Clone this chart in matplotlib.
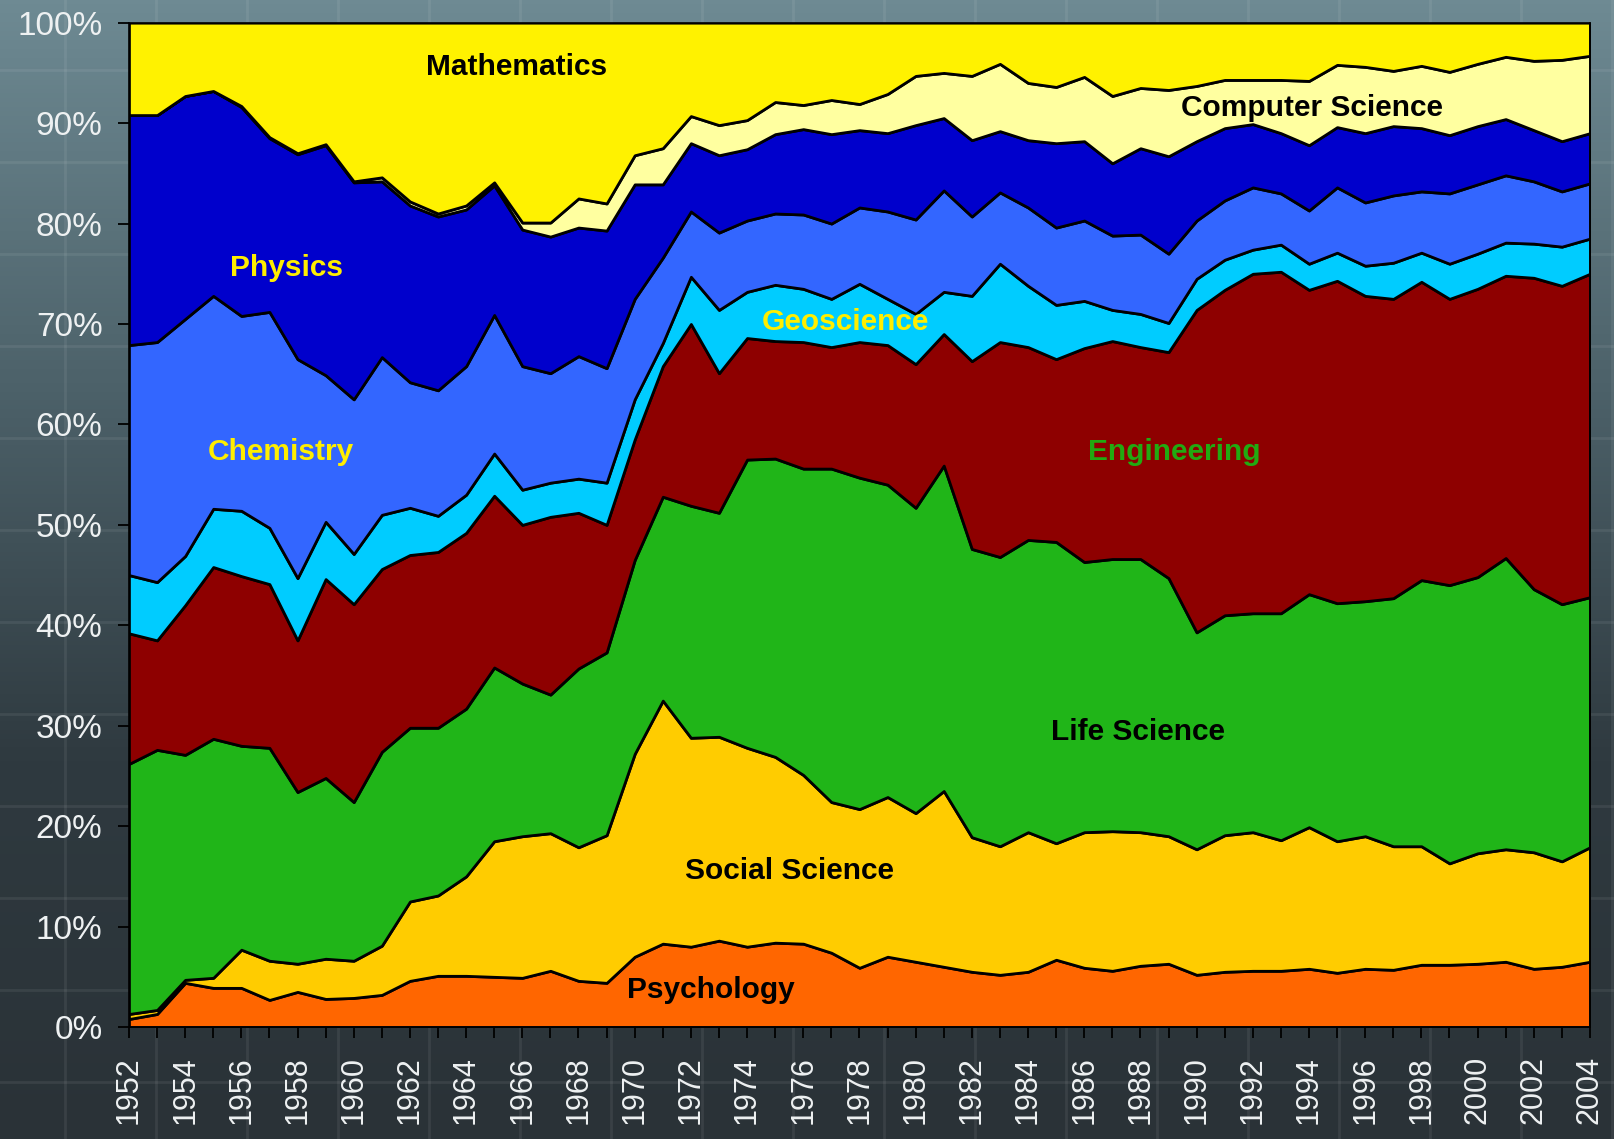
import numpy as np
import matplotlib.pyplot as plt
from matplotlib.colors import LinearSegmentedColormap
from matplotlib.ticker import MultipleLocator, FuncFormatter

plt.rcParams['font.family'] = ['Liberation Sans', 'DejaVu Sans']

years = np.arange(1952, 2005)

# share of PhDs per field, percent
psychology = [0.8, 1.3, 4.4, 3.9, 3.9, 2.7, 3.5, 2.8, 2.9, 3.2, 4.6, 5.1, 5.1, 5.0, 4.9, 5.6, 4.6, 4.4,
              7.0, 8.3, 8.0, 8.6, 8.0, 8.4, 8.3, 7.4, 5.9, 7.0, 6.5, 6.0, 5.5, 5.2, 5.5, 6.7, 5.9, 5.6,
              6.1, 6.3, 5.2, 5.5, 5.6, 5.6, 5.8, 5.4, 5.8, 5.7, 6.2, 6.2, 6.3, 6.5, 5.8, 6.0, 6.5]
social_science = [0.5, 0.4, 0.3, 1.0, 3.8, 3.9, 2.8, 4.0, 3.7, 4.9, 7.9, 8.0, 9.9, 13.5, 14.1, 13.7, 13.3, 14.7,
                  20.2, 24.2, 20.8, 20.3, 19.8, 18.5, 16.8, 15.0, 15.8, 15.9, 14.8, 17.5, 13.4, 12.8, 13.9, 11.6, 13.5, 13.9,
                  13.3, 12.7, 12.5, 13.6, 13.8, 13.0, 14.1, 13.1, 13.2, 12.3, 11.8, 10.1, 11.0, 11.2, 11.6, 10.5, 11.4]
life_science = [24.9, 25.9, 22.4, 23.8, 20.3, 21.2, 17.1, 18.0, 15.8, 19.3, 17.3, 16.7, 16.7, 17.3, 15.2, 13.8, 17.8, 18.2,
                19.3, 20.3, 23.1, 22.3, 28.7, 29.7, 30.5, 33.2, 33.0, 31.1, 30.4, 32.4, 28.7, 28.8, 29.1, 30.0, 26.9, 27.1,
                27.2, 25.7, 21.6, 21.9, 21.8, 22.6, 23.2, 23.7, 23.4, 24.7, 26.5, 27.7, 27.5, 29.0, 26.2, 25.6, 24.9]
engineering = [13.0, 10.9, 14.9, 17.1, 16.9, 16.3, 15.1, 19.8, 19.7, 18.2, 17.2, 17.5, 17.5, 17.1, 15.8, 17.7, 15.5, 12.7,
               12.0, 13.0, 18.1, 13.9, 12.1, 11.7, 12.6, 12.1, 13.5, 13.9, 14.3, 13.1, 18.7, 21.4, 19.2, 18.2, 21.3, 21.7,
               21.1, 22.5, 32.1, 32.4, 33.8, 34.0, 30.3, 32.1, 30.4, 29.8, 29.7, 28.5, 28.7, 28.1, 31.0, 31.7, 32.2]
geoscience = [5.8, 5.8, 4.9, 5.8, 6.5, 5.6, 6.2, 5.7, 5.0, 5.4, 4.7, 3.6, 3.8, 4.2, 3.5, 3.4, 3.4, 4.2,
              4.0, 2.3, 4.7, 6.3, 4.6, 5.6, 5.3, 4.8, 5.8, 4.6, 5.0, 4.2, 6.5, 7.8, 6.1, 5.4, 4.7, 3.1,
              3.3, 2.9, 3.1, 3.0, 2.4, 2.7, 2.6, 2.8, 3.0, 3.6, 2.9, 3.5, 3.5, 3.3, 3.4, 3.9, 3.5]
chemistry = [22.9, 23.9, 23.6, 21.2, 19.4, 21.5, 21.8, 14.6, 15.4, 15.7, 12.5, 12.5, 12.8, 13.8, 12.3, 10.9, 12.2, 11.4,
             10.0, 8.5, 6.5, 7.7, 7.1, 7.1, 7.4, 7.5, 7.6, 8.7, 9.4, 10.1, 7.9, 7.1, 7.8, 7.7, 8.0, 7.4,
             7.9, 6.9, 5.8, 5.9, 6.2, 5.1, 5.3, 6.5, 6.3, 6.7, 6.1, 7.0, 6.9, 6.7, 6.2, 5.5, 5.5]
physics = [22.9, 22.6, 22.2, 20.4, 20.8, 17.3, 20.4, 22.9, 21.6, 17.5, 17.6, 17.3, 15.6, 12.9, 13.6, 13.6, 12.8, 13.7,
           11.4, 7.3, 6.8, 7.7, 7.1, 7.9, 8.5, 8.9, 7.7, 7.8, 9.4, 7.2, 7.6, 6.1, 6.7, 8.4, 7.9, 7.2,
           8.6, 9.7, 7.9, 7.2, 6.3, 6.0, 6.5, 6.0, 6.9, 6.9, 6.3, 5.8, 5.8, 5.6, 5.1, 5.0, 5.0]
computer_science = [0.0, 0.0, 0.0, 0.0, 0.1, 0.1, 0.1, 0.1, 0.1, 0.4, 0.4, 0.3, 0.4, 0.3, 0.7, 1.4, 2.9, 2.7,
                    2.9, 3.6, 2.7, 3.0, 2.9, 3.2, 2.4, 3.4, 2.6, 3.9, 4.9, 4.5, 6.4, 6.7, 5.7, 5.6, 6.4, 6.7,
                    6.0, 6.6, 5.5, 4.8, 4.4, 5.3, 6.4, 6.2, 6.6, 5.5, 6.2, 6.3, 6.2, 6.2, 6.9, 8.1, 7.7]
mathematics = [9.2, 9.2, 7.3, 6.8, 8.3, 11.4, 13.0, 12.1, 15.8, 15.4, 17.8, 19.0, 18.2, 15.9, 19.9, 19.9, 17.5, 18.0,
               13.2, 12.5, 9.3, 10.2, 9.7, 7.9, 8.2, 7.7, 8.1, 7.1, 5.3, 5.0, 5.3, 4.1, 6.0, 6.4, 5.4, 7.3,
               6.5, 6.7, 6.3, 5.7, 5.7, 5.7, 5.8, 4.2, 4.4, 4.8, 4.3, 4.9, 4.1, 3.4, 3.8, 3.7, 3.3]

layer_colors = ["#ff6600", "#ffcc00", "#20b518", "#8e0000", "#00ccff",
                "#3366ff", "#0000cc", "#ffffa0", "#fff200"]

fig = plt.figure(figsize=(16.14, 11.39), dpi=100)

# dark slate backdrop with faint tile lines
bg = fig.add_axes([0, 0, 1, 1], zorder=0)
cmap = LinearSegmentedColormap.from_list("bg", ["#6e8a93", "#4d626a", "#2f3a40", "#2a3237"])
bg.imshow(np.linspace(0, 1, 256).reshape(-1, 1), aspect="auto", cmap=cmap, extent=[0, 1, 0, 1])
for gx in np.arange(65, 1614, 91) / 1614:
    bg.axvline(gx, color="white", alpha=0.07, lw=2)
for gy in np.arange(70, 1139, 92) / 1139:
    bg.axhline(1 - gy, color="white", alpha=0.07, lw=2)
bg.set_xlim(0, 1)
bg.set_ylim(0, 1)
bg.axis("off")

ax = fig.add_axes([0.0799, 0.0983, 0.9052, 0.8818], zorder=1)
ax.stackplot(years, psychology, social_science, life_science, engineering, geoscience,
             chemistry, physics, computer_science, mathematics,
             colors=layer_colors, edgecolor="black", linewidth=2.0)

ax.set_xlim(1952, 2004)
ax.set_ylim(0, 100)
ax.xaxis.set_major_locator(MultipleLocator(2))
ax.xaxis.set_minor_locator(MultipleLocator(1))
ax.yaxis.set_major_locator(MultipleLocator(10))
ax.yaxis.set_major_formatter(FuncFormatter(lambda v, p: "%d%%" % v))
ax.tick_params(axis="x", which="both", direction="out", length=8, width=1.3, color="black")
ax.tick_params(axis="x", which="major", labelsize=22, labelcolor="#eef1f2", pad=13, labelrotation=90)
ax.tick_params(axis="y", direction="out", length=8, width=1.3, color="black",
               labelsize=24, labelcolor="#eef1f2", pad=11)
for sp in ax.spines.values():
    sp.set_color("black")
    sp.set_linewidth(1.2)

# field labels
lab = dict(fontsize=21.5, fontweight="bold", ha="center", va="center")
ax.text(1965.8, 95.6, "Mathematics", color="black", **lab)
ax.text(1994.1, 91.5, "Computer Science", color="black", **lab)
ax.text(1957.6, 75.6, "Physics", color="#ffee00", **lab)
ax.text(1977.5, 70.2, "Geoscience", color="#ffee00", **lab)
ax.text(1957.4, 57.3, "Chemistry", color="#ffee00", **lab)
ax.text(1989.2, 57.3, "Engineering", color="#22aa11", **lab)
ax.text(1987.9, 29.4, "Life Science", color="black", **lab)
ax.text(1975.5, 15.5, "Social Science", color="black", **lab)
ax.text(1972.7, 3.7, "Psychology", color="black", **lab)

fig.savefig("out.png", dpi=100)
